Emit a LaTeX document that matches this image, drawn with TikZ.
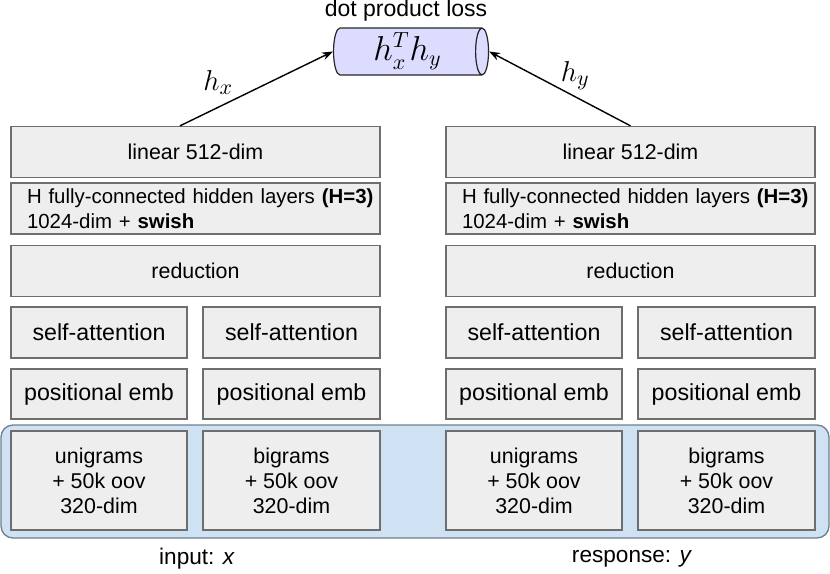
\documentclass[tikz,border=0pt]{standalone}
\usepackage{amsmath}
\usepackage{fontspec}
\setmainfont{Liberation Sans}
\usepackage{xcolor}
\usetikzlibrary{shapes.geometric, arrows.meta}

\newlength\px
\setlength\px{0.5pt}
\definecolor{boxfill}{HTML}{EEEEEE}
\definecolor{boxline}{HTML}{6E6E6E}
\definecolor{embfill}{HTML}{CFE2F3}
\definecolor{embline}{HTML}{6F7F8C}
\definecolor{lossfill}{HTML}{DCDCFF}

\begin{document}
\begin{tikzpicture}[x=0.5pt, y=-0.5pt,
  layer/.style={draw=boxline, fill=boxfill, line width=1.3\px, inner sep=0pt,
    align=center, font=\fontsize{10.7}{12.5}\selectfont},
  wide/.style={layer, minimum width=369\px, minimum height=51\px},
  dense/.style={wide, align=left, text width=337\px, inner xsep=16\px,
    font=\fontsize{10.2}{12.5}\selectfont},
  half/.style={layer, minimum width=176\px, minimum height=51\px,
    font=\fontsize{11.6}{13.5}\selectfont},
  ngram/.style={layer, minimum width=176\px, minimum height=99\px},
  feed/.style={-{Stealth[length=5.5pt, width=4pt]}, line width=0.7pt}]
  \useasboundingbox (0,0) rectangle (830,573);

  % Embedding background
  \draw[fill=embfill, draw=embline, line width=1.3\px, rounded corners=12\px]
    (1,425) rectangle (829,538);

  % Left tower
  \node[wide] (linL) at (195.5,152) {linear 512-dim};
  \node[dense] (hidL) at (195.5,208.5)
    {\mbox{H fully-connected hidden layers \textbf{(H=3)}}\\1024-dim + \textbf{swish}};
  \node[wide] (redL) at (195.5,271) {reduction};
  \node[half] (saL1) at (99,332.5) {self-attention};
  \node[half, minimum width=177\px] (saL2) at (291.5,332.5) {self-attention};
  \node[half, minimum height=50\px] (peL1) at (99,394) {positional emb};
  \node[half, minimum width=177\px, minimum height=50\px] (peL2) at (291.5,394) {positional emb};
  \node[ngram] (ngL1) at (99,480.5) {unigrams\\+ 50k oov\\320-dim};
  \node[ngram, minimum width=177\px] (ngL2) at (291.5,480.5) {bigrams\\+ 50k oov\\320-dim};
  \node[font=\fontsize{11.3}{13}\selectfont] (inX) at (197,559) {input: \textit{x}};

  % Right tower
  \node[wide] (linR) at (630.5,152) {linear 512-dim};
  \node[dense] (hidR) at (630.5,208.5)
    {\mbox{H fully-connected hidden layers \textbf{(H=3)}}\\1024-dim + \textbf{swish}};
  \node[wide] (redR) at (630.5,271) {reduction};
  \node[half] (saR1) at (534,332.5) {self-attention};
  \node[half, minimum width=177\px] (saR2) at (726.5,332.5) {self-attention};
  \node[half, minimum height=50\px] (peR1) at (534,394) {positional emb};
  \node[half, minimum width=177\px, minimum height=50\px] (peR2) at (726.5,394) {positional emb};
  \node[ngram] (ngR1) at (534,480.5) {unigrams\\+ 50k oov\\320-dim};
  \node[ngram, minimum width=177\px] (ngR2) at (726.5,480.5) {bigrams\\+ 50k oov\\320-dim};
  \node[font=\fontsize{11.3}{13}\selectfont] (inY) at (632,559) {response: \textit{y}};

  % Loss
  \node[shape=cylinder, shape border rotate=0, shape aspect=0.35, draw=black!85,
    fill=lossfill, line width=1.2\px, minimum width=47\px, minimum height=155\px,
    inner sep=0pt, font=\fontsize{16}{18}\selectfont] (loss) at (407.5,51.5) {$h_x^T h_y$};
  \node[font=\fontsize{11.5}{13}\selectfont] (lossT) at (406,11) {dot product loss};

  % Connections
  \draw[feed] ([xshift=-7.75pt]linL.north) -- (loss.west)
    node[pos=0.25, above=6pt, inner sep=0pt, font=\fontsize{15}{17}\selectfont] {$h_x$};
  \draw[feed] (linR.north) -- (loss.east)
    node[pos=0.39, above=3pt, inner sep=0pt, font=\fontsize{15}{17}\selectfont] {$h_y$};
\end{tikzpicture}
\end{document}
